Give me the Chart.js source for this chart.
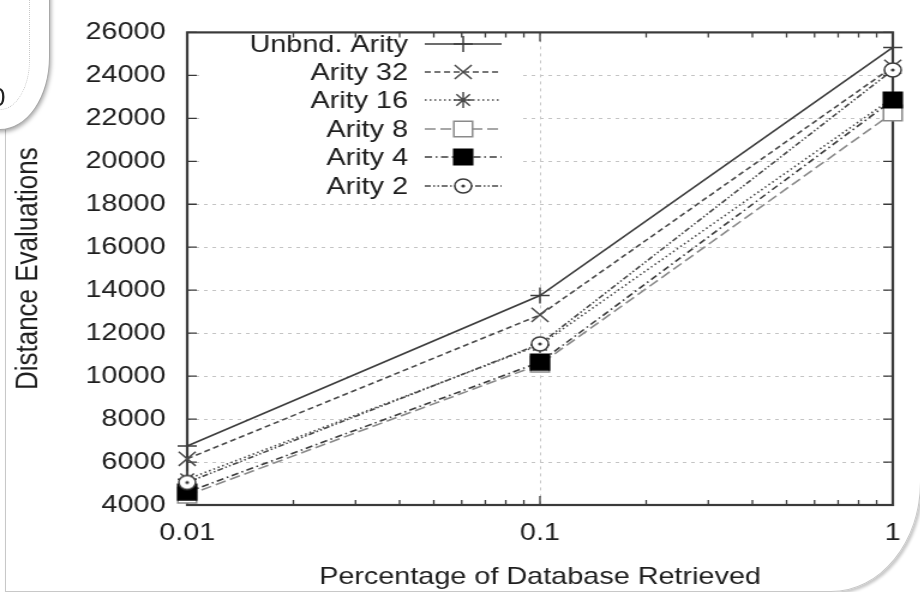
<!DOCTYPE html>
<html>
<head>
<meta charset="utf-8">
<script src="https://cdn.jsdelivr.net/npm/chart.js@4.4.1/dist/chart.umd.min.js"></script>
<style>
html,body{margin:0;padding:0;background:#fff;width:920px;height:592px;overflow:hidden;position:relative;font-family:"Liberation Sans",Arial,sans-serif;}
#frame{position:absolute;left:5px;top:-30px;width:916px;height:622px;border:1px solid #c8c8c8;box-sizing:border-box;border-bottom-right-radius:90px 110px;box-shadow:2px 2px 3px rgba(0,0,0,0.22);}
#panel{position:absolute;left:-80px;top:-40px;width:130px;height:170px;background:#fff;border:1px solid #a8a8a8;box-sizing:border-box;border-bottom-right-radius:50px 73px;box-shadow:1px 2px 4px rgba(0,0,0,0.35);overflow:hidden;}
#panelInner{position:absolute;left:-80px;top:-40px;width:110px;height:150px;border:1px dotted #c8c8c8;box-sizing:border-box;border-bottom-right-radius:30px 50px;}
#panelText{position:absolute;left:-9px;top:82px;font-size:26px;color:#222;}
#wrap{position:absolute;left:0;top:0;width:767px;height:592px;transform:scaleX(1.2);transform-origin:0 0;}
</style>
</head>
<body>
<div id="frame"></div>
<div id="wrap"><canvas id="c" width="767" height="592"></canvas></div>
<div id="panel"></div>
<div id="panelInner"></div>
<div id="panelText">0</div>
<script>
// ---- data ----
const xValues = [0.01, 0.1, 1];
const xTickValues = [0.01, 0.1, 1];
const xTickLabels = ['0.01', '0.1', '1'];
const yTickValues = [4000, 6000, 8000, 10000, 12000, 14000, 16000, 18000, 20000, 22000, 24000, 26000];
const seriesNames = ['Unbnd. Arity', 'Arity 32', 'Arity 16', 'Arity 8', 'Arity 4', 'Arity 2'];
const unbounded = [6750, 13750, 25300];
const arity32 = [6150, 12850, 24400];
const arity16 = [5200, 11450, 22950];
const arity8 = [4450, 10550, 22250];
const arity4 = [4600, 10650, 22850];
const arity2 = [5050, 11500, 24250];

const FONT = '"Liberation Sans", Arial, Helvetica, sans-serif';

// circle with center dot marker
function dotCircle(){
  const cv = document.createElement('canvas');
  cv.width = 18; cv.height = 18;
  const g = cv.getContext('2d');
  g.strokeStyle = '#3a3a3a'; g.lineWidth = 1.5;
  g.fillStyle = '#fff';
  g.beginPath(); g.arc(9, 9, 7, 0, Math.PI * 2); g.fill(); g.stroke();
  g.fillStyle = '#3a3a3a';
  g.beginPath(); g.arc(9, 9, 1.6, 0, Math.PI * 2); g.fill();
  return cv;
}

const styles = [
  {color:'#3c3c3c', dash:[], point:'cross', r:8, fill:'#3c3c3c'},
  {color:'#4a4a4a', dash:[5,3], point:'crossRot', r:10, fill:'#4a4a4a'},
  {color:'#4a4a4a', dash:[1.5,2.5], point:'star', r:8, fill:'#4a4a4a'},
  {color:'#8a8a8a', dash:[9,4], point:'rect', r:11, fill:'#ffffff'},
  {color:'#3c3c3c', dash:[6,3,1.5,3], point:'rect', r:11, fill:'#000000'},
  {color:'#4a4a4a', dash:[5,2,1.5,2,1.5,2], point:dotCircle(), r:8, fill:'#ffffff'}
];
const seriesValues = [unbounded, arity32, arity16, arity8, arity4, arity2];

const datasets = seriesNames.map((name, i) => ({
  label: name,
  data: xValues.map((x, j) => ({x: x, y: seriesValues[i][j]})),
  borderColor: styles[i].color,
  borderWidth: 1.6,
  borderDash: styles[i].dash,
  pointStyle: styles[i].point,
  pointRadius: styles[i].r,
  pointBorderColor: i === 4 ? '#000' : styles[i].color,
  pointBackgroundColor: styles[i].fill,
  pointBorderWidth: 1.5,
  tension: 0,
  fill: false,
  clip: false,
  order: seriesNames.length - i
}));

const gnuplotPlugin = {
  id: 'gnuplotLook',
  beforeDatasetsDraw(chart){
    const c = chart.ctx, a = chart.chartArea;
    const xs = chart.scales.x, ys = chart.scales.y;
    c.save();
    // key area is blank in the reference
    c.fillStyle = '#fff';
    c.fillRect(168, 27, 268, 172);
    // inward tick marks
    c.strokeStyle = '#3a3a3a';
    c.lineWidth = 1.3;
    c.beginPath();
    yTickValues.forEach(v => {
      const y = ys.getPixelForValue(v);
      c.moveTo(a.left, y); c.lineTo(a.left + 8, y);
      c.moveTo(a.right, y); c.lineTo(a.right - 8, y);
    });
    [0.01, 0.1].forEach(base => {
      for (let k = 1; k <= 10; k++) {
        const v = base * k;
        if (v > 1.0000001) continue;
        const x = xs.getPixelForValue(v);
        const len = (k === 1 || k === 10) ? 9 : 5;
        c.moveTo(x, a.bottom); c.lineTo(x, a.bottom - len);
        c.moveTo(x, a.top); c.lineTo(x, a.top + len);
      }
    });
    c.stroke();
    // border
    c.strokeStyle = '#3a3a3a';
    c.lineWidth = 2.2;
    c.strokeRect(a.left, a.top, a.right - a.left, a.bottom - a.top);
    c.restore();
  },
  afterDatasetsDraw(chart){
    const c = chart.ctx;
    const rows = [44, 72, 100, 129, 157, 186];
    c.save();
    c.font = '24px ' + FONT;
    c.fillStyle = '#1e1e1e';
    c.textAlign = 'right';
    c.textBaseline = 'middle';
    chart.data.datasets.forEach((ds, i) => {
      const y = rows[i];
      c.fillText(ds.label, 340, y + 1);
      c.strokeStyle = ds.borderColor;
      c.lineWidth = ds.borderWidth;
      c.setLineDash(ds.borderDash);
      c.beginPath(); c.moveTo(354, y); c.lineTo(418, y); c.stroke();
      c.setLineDash([]);
      c.strokeStyle = ds.pointBorderColor;
      c.fillStyle = ds.pointBackgroundColor;
      c.lineWidth = ds.pointBorderWidth;
      Chart.helpers.drawPoint(c, {pointStyle: ds.pointStyle, radius: ds.pointRadius, rotation: 0, borderWidth: ds.pointBorderWidth}, 386, y);
      c.fillStyle = '#1e1e1e';
    });
    c.restore();
  }
};

new Chart(document.getElementById('c'), {
  type: 'line',
  data: {datasets: datasets},
  options: {
    responsive: false,
    animation: false,
    devicePixelRatio: 1,
    layout: {padding: {top: 19, right: 23, left: 0, bottom: 0}},
    plugins: {legend: {display: false}, tooltip: {enabled: false}},
    scales: {
      x: {
        type: 'logarithmic',
        min: 0.01, max: 1,
        afterBuildTicks: s => { s.ticks = xTickValues.map(v => ({value: v, major: true})); },
        afterFit: s => { s.height = 87; },
        ticks: {
          callback: (v) => { const i = xTickValues.indexOf(v); return i >= 0 ? xTickLabels[i] : ''; },
          color: '#1e1e1e', font: {size: 24, family: FONT}, padding: 14,
          maxRotation: 0, autoSkip: false
        },
        grid: {color: '#c4c4c4', lineWidth: 1, drawTicks: false},
        border: {display: false, dash: [3, 4]},
        title: {display: true, text: 'Percentage of Database Retrieved', color: '#1e1e1e',
          font: {size: 24, family: FONT}, padding: {top: 0, bottom: 0}}
      },
      y: {
        type: 'linear',
        min: 4000, max: 26000,
        afterBuildTicks: s => { s.ticks = yTickValues.map(v => ({value: v})); },
        afterFit: s => { s.width = 156; },
        ticks: {color: '#1e1e1e', font: {size: 24, family: FONT}, padding: 18, autoSkip: false,
          callback: (v) => String(v)},
        grid: {color: '#c4c4c4', lineWidth: 1, drawTicks: false},
        border: {display: false, dash: [3, 4]},
        title: {display: true, text: 'Distance Evaluations', color: '#1e1e1e',
          font: {size: 26, family: FONT}, padding: {top: 8, bottom: 0}}
      }
    }
  },
  plugins: [gnuplotPlugin]
});
</script>
</body>
</html>
